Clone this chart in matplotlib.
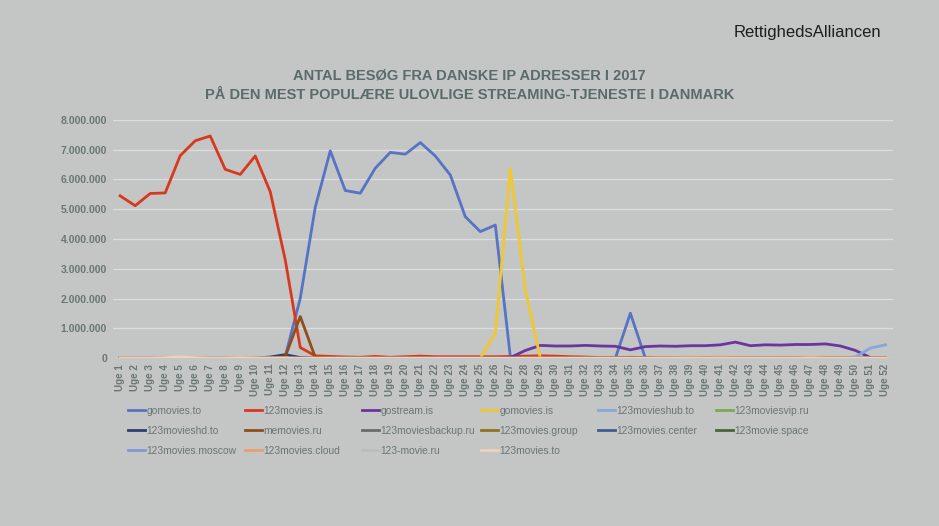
import matplotlib
matplotlib.use("Agg")
import matplotlib.pyplot as plt
from matplotlib.ticker import FuncFormatter

plt.rcParams["font.family"] = ["Liberation Sans", "DejaVu Sans"]

weeks = [f"Uge {i}" for i in range(1, 53)]

# weekly visits per site (Uge 1 .. Uge 52)
gomovies_to = [0, 0, 0, 0, 0, 0, 0, 0, 0, 0,
               0, 60000, 2010000, 5070000, 6960000, 5630000, 5540000, 6380000, 6910000, 6850000,
               7240000, 6790000, 6150000, 4750000, 4250000, 4470000, 50000, 0, 0, 0,
               0, 0, 0, 0, 1510000, 0, 0, 0, 0, 0,
               0, 0, 0, 0, 0, 0, 0, 0, 0, 0,
               0, 0]
movies123_is = [5450000, 5120000, 5530000, 5550000, 6800000, 7300000, 7460000, 6340000, 6170000, 6790000,
                5590000, 3300000, 360000, 80000, 60000, 40000, 30000, 60000, 30000, 50000,
                70000, 50000, 50000, 50000, 50000, 50000, 60000, 70000, 80000, 70000,
                50000, 40000, 20000, 20000, 30000, 20000, 10000, 10000, 10000, 10000,
                20000, 10000, 10000, 10000, 10000, 10000, 20000, 10000, 10000, 10000,
                10000, 10000]
gostream_is = [0, 0, 0, 0, 0, 0, 0, 0, 0, 0,
               0, 0, 0, 0, 0, 0, 0, 0, 0, 0,
               0, 0, 0, 0, 0, 0, 20000, 260000, 430000, 410000,
               410000, 430000, 410000, 400000, 280000, 390000, 410000, 400000, 420000, 420000,
               450000, 540000, 420000, 450000, 440000, 460000, 460000, 480000, 410000, 260000,
               20000, 0]
gomovies_is = [0, 0, 0, 0, 0, 0, 0, 0, 0, 0,
               0, 0, 0, 0, 0, 0, 0, 0, 0, 0,
               0, 0, 0, 0, 0, 840000, 6380000, 2290000, 0, 0,
               0, 0, 0, 0, 0, 0, 0, 0, 0, 0,
               0, 0, 0, 0, 0, 0, 0, 0, 0, 0,
               0, 0]
movies123hub_to = [0, 0, 0, 0, 0, 0, 0, 0, 0, 0,
                   0, 0, 0, 0, 0, 0, 0, 0, 0, 0,
                   0, 0, 0, 0, 0, 0, 0, 0, 0, 0,
                   0, 0, 0, 0, 0, 0, 0, 20000, 0, 0,
                   0, 0, 0, 20000, 0, 0, 0, 0, 0, 40000,
                   340000, 450000]
movies123vip_ru = [0] * 52
movies123hd_to = [0, 0, 0, 0, 0, 0, 0, 0, 0, 0,
                  40000, 120000, 20000, 0, 0, 0, 0, 0, 0, 0,
                  0, 0, 0, 0, 0, 0, 0, 0, 0, 0,
                  0, 0, 0, 0, 0, 0, 0, 0, 0, 0,
                  0, 0, 0, 0, 0, 0, 0, 0, 0, 0,
                  0, 0]
memovies_ru = [0, 0, 0, 0, 0, 0, 0, 0, 0, 0,
               0, 50000, 1400000, 30000, 0, 0, 0, 0, 0, 0,
               0, 0, 0, 0, 0, 0, 0, 0, 0, 0,
               0, 0, 0, 0, 0, 0, 0, 0, 0, 0,
               0, 0, 0, 0, 0, 0, 0, 0, 0, 0,
               0, 0]
movies123backup_ru = [0] * 52
movies123_group = [0] * 52
movies123_center = [0] * 52
movie123_space = [0] * 52
movies123_moscow = [0] * 52
movies123_cloud = [0, 0, 0, 0, 0, 0, 0, 0, 0, 0,
                   0, 0, 0, 0, 0, 0, 0, 0, 0, 0,
                   0, 0, 0, 0, 0, 0, 0, 0, 0, 0,
                   0, 0, 0, 0, 0, 0, 10000, 10000, 20000, 10000,
                   20000, 10000, 10000, 10000, 10000, 10000, 30000, 10000, 10000, 10000,
                   10000, 10000]
movie123_ru = [0] * 52
movies123_to = [10000, 10000, 10000, 20000, 40000, 20000, 10000, 10000, 20000, 10000,
                10000, 10000, 0, 0, 0, 0, 0, 0, 0, 0,
                0, 0, 0, 0, 0, 0, 0, 0, 0, 0,
                0, 0, 0, 0, 0, 0, 0, 0, 0, 0,
                0, 0, 0, 0, 0, 0, 0, 0, 0, 0,
                0, 0]

series = [
    ("gomovies.to", gomovies_to, "#5673c4"),
    ("123movies.is", movies123_is, "#d8381e"),
    ("gostream.is", gostream_is, "#6a35a0"),
    ("gomovies.is", gomovies_is, "#f0c830"),
    ("123movieshub.to", movies123hub_to, "#86a6dc"),
    ("123moviesvip.ru", movies123vip_ru, "#7aab50"),
    ("123movieshd.to", movies123hd_to, "#2c3f6e"),
    ("memovies.ru", memovies_ru, "#8e4e1e"),
    ("123moviesbackup.ru", movies123backup_ru, "#6a6a6a"),
    ("123movies.group", movies123_group, "#8e7420"),
    ("123movies.center", movies123_center, "#3a5f8e"),
    ("123movie.space", movie123_space, "#4a6634"),
    ("123movies.moscow", movies123_moscow, "#7f97d4"),
    ("123movies.cloud", movies123_cloud, "#e8a070"),
    ("123-movie.ru", movie123_ru, "#bcbcbc"),
    ("123movies.to", movies123_to, "#f0d2b8"),
]

bg = "#c3c6c4"
txt = "#6b7676"

fig = plt.figure(figsize=(9.39, 5.26), dpi=100, facecolor=bg)
ax = fig.add_axes([0.120, 0.319, 0.831, 0.453], facecolor=bg)

x = list(range(len(weeks)))
handles = []
for name, vals, col in series:
    h, = ax.plot(x, vals, color=col, lw=2.0, label=name, solid_joinstyle="round")
    handles.append(h)

ax.set_xlim(-0.5, len(weeks) - 0.5)
ax.set_ylim(0, 8000000)
ax.set_yticks(range(0, 8000001, 1000000))
ax.yaxis.set_major_formatter(FuncFormatter(lambda v, p: f"{int(v):,}".replace(",", ".")))
ax.set_xticks(x)
ax.set_xticklabels(weeks, rotation=90)
ax.grid(axis="y", color="#dcdedd", lw=0.9)
ax.set_axisbelow(True)
for s in ax.spines.values():
    s.set_visible(False)
ax.tick_params(length=0, colors=txt, labelsize=7, pad=4)
ax.tick_params(axis="y", labelsize=7.5)
for lab in ax.get_xticklabels() + ax.get_yticklabels():
    lab.set_fontweight("bold")

fig.text(0.5, 0.857, "ANTAL BESØG FRA DANSKE IP ADRESSER I 2017", ha="center", va="center",
         fontsize=10.5, color="#5b6a6a", fontweight="bold")
fig.text(0.5, 0.820, "PÅ DEN MEST POPULÆRE ULOVLIGE STREAMING-TJENESTE I DANMARK", ha="center",
         va="center", fontsize=10.5, color="#5b6a6a", fontweight="bold")
fig.text(0.938, 0.939, "RettighedsAlliancen", ha="right", va="center", fontsize=12, color="#1e1e1e")

# Excel-style legend: six equal-width columns, read row by row
ncol = 6
col_x = [128, 245, 362, 481, 598, 716]
for c in range(ncol):
    col_handles = handles[c::ncol]
    leg = fig.legend(handles=col_handles, labels=[h.get_label() for h in col_handles],
                     loc="upper left", bbox_to_anchor=(col_x[c] / 939, 1 - 406 / 526),
                     frameon=False, fontsize=7.4, handlelength=1.7, handletextpad=0.12,
                     labelspacing=0.95, borderaxespad=0, borderpad=0)
    for t in leg.get_texts():
        t.set_color(txt)

fig.savefig("out.png", dpi=100, facecolor=bg)
